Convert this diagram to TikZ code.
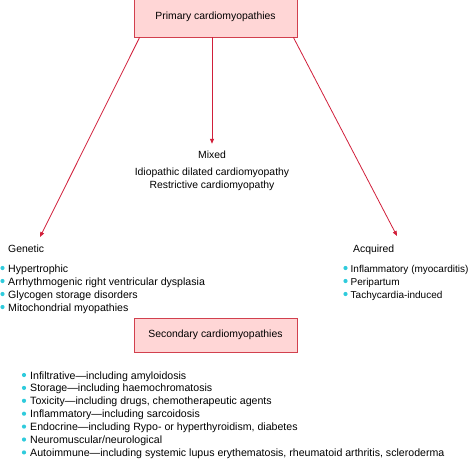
\documentclass[tikz,border=0pt]{standalone}
\usepackage{fontspec}
\setmainfont{Liberation Sans}
\usetikzlibrary{arrows.meta,positioning,calc}
\definecolor{boxred}{HTML}{D2404E}
\definecolor{boxpink}{HTML}{FFD6D6}
\definecolor{arrowred}{HTML}{D11F3A}
\definecolor{dotcyan}{HTML}{2FCBDC}
\tikzset{
    catbox/.style={draw=boxred, fill=boxpink, line width=0.8pt,
        minimum width=163pt, inner sep=0pt, font=\fontsize{10.4}{12}\selectfont},
    branch/.style={draw=arrowred, line width=0.8pt,
        -{Triangle[length=5pt,width=4pt]}},
    label/.style={inner sep=0pt, font=\fontsize{10.4}{12}\selectfont},
    item/.style={anchor=base west, inner sep=0pt, font=\fontsize{10.6}{12}\selectfont},
    dot/.style={circle, fill=dotcyan, inner sep=0pt, minimum size=4.2pt}
}
\begin{document}
\begin{tikzpicture}[x=1pt, y=-1pt]
    \useasboundingbox (0, 0) rectangle (474, 458);
    % category boxes
    \node[catbox, minimum height=40pt] (primary) at (215.5, 17) {Primary cardiomyopathies};
    \node[catbox, minimum height=34pt] (secondary) at (215.5, 335) {Secondary cardiomyopathies};
    % headings
    \node[label, anchor=base west] (genetic) at (8, 252.5) {Genetic};
    \node[label, anchor=base] (mixed) at (212, 158.5) {Mixed};
    \node[label, anchor=base west] (acquired) at (353, 252.5) {Acquired};
    \node[label, anchor=base] (idio) at (212, 175.5) {Idiopathic dilated cardiomyopathy};
    \node[label, anchor=base] (restr) at (212, 188.5) {Restrictive cardiomyopathy};
    % arrows
    \coordinate (genetic end) at (40, 237);
    \coordinate (acquired end) at (397, 236);
    \draw[branch] ($(primary.south west)+(6, 0)$) -- (genetic end);
    \draw[branch] (primary.south -| mixed) -- ($(mixed.north)+(0, -7)$);
    \draw[branch] ($(primary.south east)+(-4, 0)$) -- (acquired end);
    % genetic list
    \foreach \txt [count=\i] in {Hypertrophic, Arrhythmogenic right ventricular dysplasia,
            Glycogen storage disorders, Mitochondrial myopathies} {
        \node[dot] (gdot\i) at (2.5, 268 + 13*\i - 13) {};
        \node[item] (gen\i) at (8, 272 + 13*\i - 13) {\txt};
    }
    % acquired list
    \foreach \txt [count=\i] in {Inflammatory (myocarditis), Peripartum, Tachycardia-induced} {
        \node[dot] (adot\i) at (345.5, 268 + 13*\i - 13) {};
        \node[item, font=\fontsize{10}{12}\selectfont] (acq\i) at (350.5, 272 + 13*\i - 13) {\txt};
    }
    % secondary list
    \foreach \txt [count=\i] in {Infiltrative---including amyloidosis,
            Storage---including haemochromatosis,
            {Toxicity---including drugs, chemotherapeutic agents},
            Inflammatory---including sarcoidosis,
            {Endocrine---including Rypo- or hyperthyroidism, diabetes},
            Neuromuscular/neurological,
            {Autoimmune---including systemic lupus erythematosis, rheumatoid arthritis, scleroderma}} {
        \node[dot] (sdot\i) at (24, 375 + 12.9*\i - 12.9) {};
        \node[item] (sec\i) at (30, 379 + 12.9*\i - 12.9) {\txt};
    }
\end{tikzpicture}
\end{document}
